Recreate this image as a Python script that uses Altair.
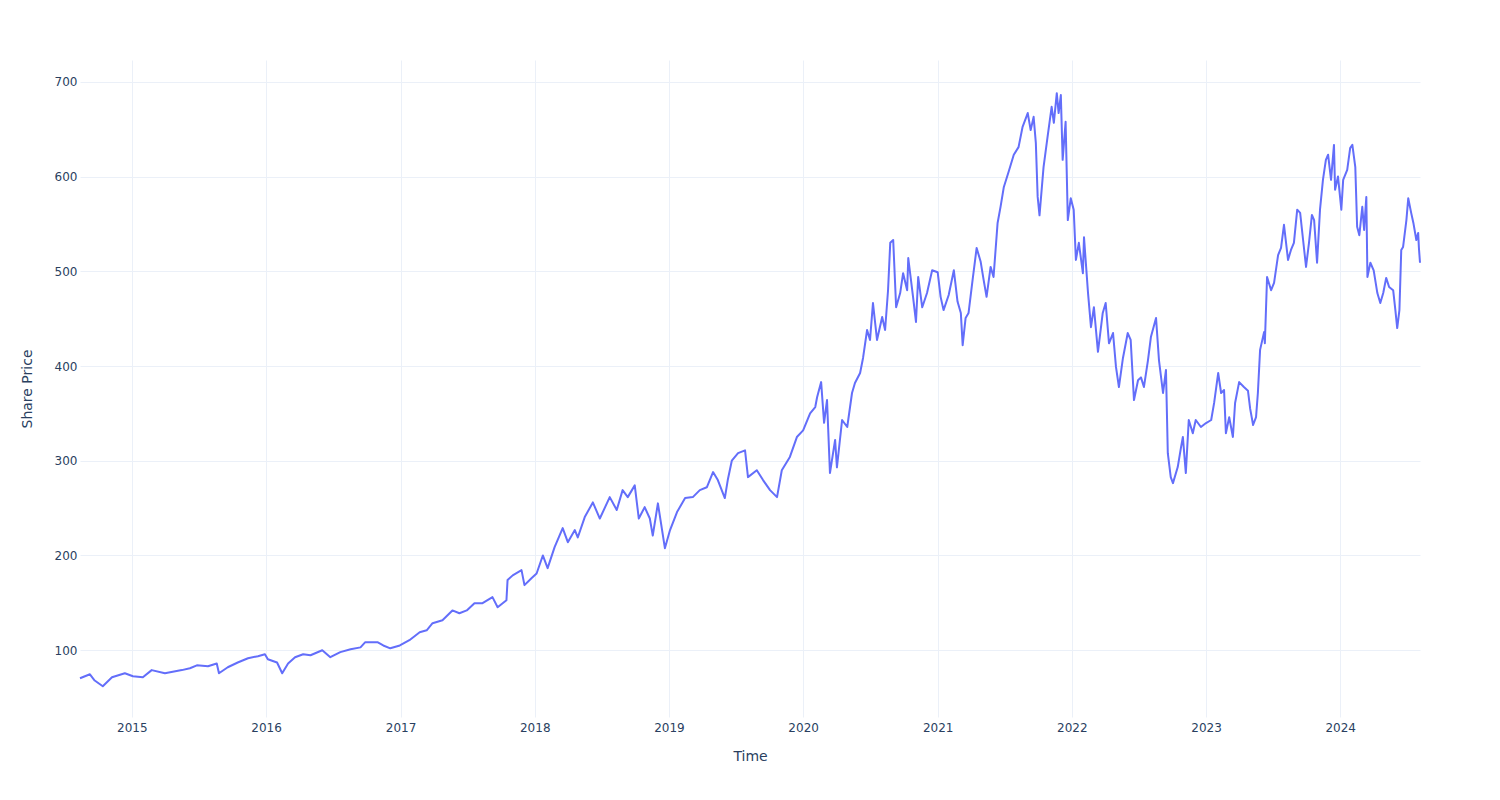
import altair as alt
import pandas as pd

dates = [
    "2014-08-13", "2014-09-09", "2014-09-22", "2014-10-14", "2014-11-08", "2014-12-13",
    "2015-01-04", "2015-01-31", "2015-02-24", "2015-04-01", "2015-05-17", "2015-06-08",
    "2015-06-27", "2015-07-27", "2015-08-20", "2015-08-26", "2015-09-19", "2015-10-16",
    "2015-11-13", "2015-12-10", "2015-12-29",
    "2016-01-06", "2016-01-31", "2016-02-14", "2016-03-01", "2016-03-20", "2016-04-11",
    "2016-05-01", "2016-06-02", "2016-06-24", "2016-07-21", "2016-08-18", "2016-09-14",
    "2016-09-27", "2016-10-30", "2016-11-15", "2016-12-04", "2016-12-30",
    "2017-01-25", "2017-02-22", "2017-03-13", "2017-03-29", "2017-04-25", "2017-05-22",
    "2017-06-10", "2017-06-30", "2017-07-21", "2017-08-12", "2017-09-08", "2017-09-22",
    "2017-10-16", "2017-10-19", "2017-11-02", "2017-11-26", "2017-12-04", "2017-12-23",
    "2018-01-06", "2018-01-23", "2018-02-05", "2018-02-24", "2018-03-18", "2018-04-01",
    "2018-04-20", "2018-04-28", "2018-05-17", "2018-06-08", "2018-06-27", "2018-07-24",
    "2018-08-12", "2018-08-28", "2018-09-11", "2018-09-30", "2018-10-11", "2018-10-27",
    "2018-11-10", "2018-11-18", "2018-12-02", "2018-12-21",
    "2019-01-04", "2019-01-23", "2019-02-14", "2019-03-07", "2019-03-26", "2019-04-14",
    "2019-05-01", "2019-05-14", "2019-06-02", "2019-06-10", "2019-06-21", "2019-07-08",
    "2019-07-27", "2019-08-04", "2019-08-28", "2019-09-14", "2019-10-03", "2019-10-22",
    "2019-11-04", "2019-11-26", "2019-12-15",
    "2020-01-01", "2020-01-20", "2020-02-03", "2020-02-08", "2020-02-19", "2020-02-27",
    "2020-03-06", "2020-03-14", "2020-03-28", "2020-04-02", "2020-04-16", "2020-04-30",
    "2020-05-13", "2020-05-21", "2020-06-04", "2020-06-12", "2020-06-23", "2020-07-01",
    "2020-07-09", "2020-07-20", "2020-08-03", "2020-08-11", "2020-08-19", "2020-08-25",
    "2020-09-02", "2020-09-10", "2020-09-21", "2020-09-29", "2020-10-10", "2020-10-13",
    "2020-10-26", "2020-11-03", "2020-11-09", "2020-11-20", "2020-12-03", "2020-12-17",
    "2021-01-01", "2021-01-09", "2021-01-17", "2021-01-31", "2021-02-14", "2021-02-24",
    "2021-03-05", "2021-03-10", "2021-03-18", "2021-03-26", "2021-04-06", "2021-04-17",
    "2021-04-28", "2021-05-06", "2021-05-14", "2021-05-25", "2021-06-02", "2021-06-13",
    "2021-06-21", "2021-06-30", "2021-07-13", "2021-07-27", "2021-08-09", "2021-08-20",
    "2021-09-03", "2021-09-11", "2021-09-19", "2021-09-25", "2021-09-30", "2021-10-05",
    "2021-10-16", "2021-10-27", "2021-11-07", "2021-11-13", "2021-11-21", "2021-11-26",
    "2021-12-02", "2021-12-07", "2021-12-15", "2021-12-21", "2021-12-29",
    "2022-01-06", "2022-01-12", "2022-01-20", "2022-01-31", "2022-02-03", "2022-02-14",
    "2022-02-22", "2022-03-02", "2022-03-13", "2022-03-26", "2022-04-03", "2022-04-12",
    "2022-04-23", "2022-05-01", "2022-05-09", "2022-05-20", "2022-06-02", "2022-06-10",
    "2022-06-19", "2022-06-30", "2022-07-08", "2022-07-16", "2022-07-27", "2022-08-04",
    "2022-08-18", "2022-08-26", "2022-09-06", "2022-09-14", "2022-09-19", "2022-09-27",
    "2022-10-03", "2022-10-16", "2022-10-25", "2022-10-30", "2022-11-07", "2022-11-15",
    "2022-11-26", "2022-12-04", "2022-12-18",
    "2023-01-01", "2023-01-15", "2023-01-23", "2023-02-03", "2023-02-11", "2023-02-19",
    "2023-02-24", "2023-03-05", "2023-03-15", "2023-03-21", "2023-04-01", "2023-04-14",
    "2023-04-25", "2023-05-01", "2023-05-09", "2023-05-17", "2023-05-22", "2023-05-28",
    "2023-06-08", "2023-06-10", "2023-06-16", "2023-06-27", "2023-07-05", "2023-07-16",
    "2023-07-24", "2023-08-01", "2023-08-12", "2023-08-20", "2023-08-28", "2023-09-06",
    "2023-09-14", "2023-09-22", "2023-09-30", "2023-10-08", "2023-10-16", "2023-10-22",
    "2023-10-30", "2023-11-07", "2023-11-15", "2023-11-23", "2023-11-29", "2023-12-07",
    "2023-12-15", "2023-12-18", "2023-12-26",
    "2024-01-04", "2024-01-09", "2024-01-20", "2024-01-28", "2024-02-03", "2024-02-11",
    "2024-02-16", "2024-02-22", "2024-03-01", "2024-03-06", "2024-03-12", "2024-03-15",
    "2024-03-23", "2024-04-01", "2024-04-11", "2024-04-19", "2024-04-27", "2024-05-05",
    "2024-05-13", "2024-05-24", "2024-05-30", "2024-06-04", "2024-06-10", "2024-06-15",
    "2024-06-20", "2024-06-29", "2024-07-04", "2024-07-12", "2024-07-18", "2024-07-26",
    "2024-07-31", "2024-08-02", "2024-08-05",
]

prices = [
    70.4, 74.6, 68.0, 62.0, 71.5, 75.7,
    72.5, 71.5, 79.0, 75.7, 79.0, 81.0,
    84.0, 83.0, 86.0, 75.7, 82.0, 87.0,
    91.5, 93.7, 95.8,
    90.5, 87.0, 75.7, 86.0, 92.6, 95.8,
    94.7, 100.0, 92.6, 98.0, 101.0, 103.0,
    108.5, 108.5, 105.0, 102.0, 105.0,
    110.6, 119.0, 121.0, 128.5, 131.7, 142.0,
    139.0, 142.0, 149.6, 149.6, 156.0, 145.4,
    152.8, 174.0, 179.0, 184.5, 168.7, 176.0,
    181.0, 200.0, 186.6, 208.8, 228.9, 214.0,
    226.8, 219.0, 240.5, 256.0, 239.0, 261.6,
    248.0, 269.0, 261.6, 274.0, 239.0, 251.0,
    239.0, 221.0, 255.0, 207.7,
    226.8, 245.8, 260.6, 261.6, 269.0, 272.0,
    288.0, 279.6, 260.6, 279.6, 300.0, 308.0,
    311.0, 282.7, 290.0, 279.6, 269.0, 261.6,
    290.0, 304.0, 325.0,
    332.0, 350.0, 356.7, 367.0, 383.0, 340.0,
    364.0, 287.0, 322.0, 293.0, 343.0, 335.6,
    371.5, 382.0, 392.6, 408.5, 438.0, 427.5,
    466.5, 427.5, 451.7, 438.0, 480.0, 530.0,
    533.0, 462.0, 477.0, 498.0, 480.0, 514.0,
    473.0, 446.5, 494.0, 462.0, 477.0, 501.0,
    499.0, 473.0, 459.0, 475.0, 501.0, 468.0,
    456.0, 422.0, 450.7, 456.0, 491.0, 524.6,
    510.0, 491.0, 473.0, 504.6, 494.0, 551.0,
    568.0, 589.0, 605.0, 623.0, 631.0, 652.5,
    667.0, 649.0, 663.0, 635.6, 578.5, 559.0,
    610.0, 642.0, 673.6, 656.7, 688.0, 667.0,
    686.0, 617.6, 657.7, 554.0, 577.0,
    565.0, 512.0, 530.0, 498.0, 536.0, 477.0,
    441.0, 462.0, 415.0, 456.0, 466.5, 424.0,
    434.8, 399.0, 377.8, 408.5, 434.8, 427.5,
    364.0, 385.0, 388.0, 377.8, 406.0, 430.6,
    450.7, 406.0, 371.5, 395.8, 308.0, 282.7,
    276.4, 293.3, 314.4, 325.0, 287.0, 343.0,
    329.0, 343.0, 335.6,
    339.8, 343.0, 361.0, 392.6, 371.5, 374.6,
    329.0, 346.0, 325.0, 361.0, 383.0, 377.8,
    374.0, 355.0, 337.7, 346.0, 371.5, 417.0,
    436.0, 424.0, 494.0, 480.0, 487.7, 517.0,
    524.6, 549.0, 512.0, 522.5, 530.0, 565.0,
    561.6, 533.0, 504.6, 530.0, 559.5, 554.0,
    509.0, 565.0, 596.5, 617.6, 623.0, 596.5,
    633.4, 586.0, 600.0,
    565.0, 596.5, 607.0, 630.0, 633.4, 610.0,
    547.0, 538.0, 568.0, 543.6, 578.5, 494.0,
    509.0, 501.0, 477.0, 466.5, 477.0, 493.0,
    483.4, 480.0, 459.0, 440.0, 459.0, 522.5,
    525.7, 554.0, 577.0, 561.6, 551.0, 533.0,
    540.5, 525.0, 509.0,
]

df = pd.DataFrame({"Time": pd.to_datetime(dates), "Share Price": prices})

FONT = "DejaVu Sans"
TXT = "#2a3f5f"
GRID = "#EBF0F8"

chart = (
    alt.Chart(df)
    .mark_line(color="#636efa", strokeWidth=2, strokeJoin="round")
    .encode(
        x=alt.X(
            "Time:T",
            title="Time",
            scale=alt.Scale(domain=["2014-08-13", "2024-08-05"], nice=False),
            axis=alt.Axis(
                format="%Y",
                tickCount={"interval": "year", "step": 1},
                grid=True,
                gridColor=GRID,
                domain=False,
                ticks=False,
                labelPadding=5,
                labelFont=FONT,
                labelFontSize=12,
                labelColor=TXT,
                titleFont=FONT,
                titleFontSize=14,
                titleFontWeight="normal",
                titleColor=TXT,
                titlePadding=16,
                labelFlush=False,
            ),
        ),
        y=alt.Y(
            "Share Price:Q",
            title="Share Price",
            scale=alt.Scale(domain=[29.5, 723], nice=False, zero=False),
            axis=alt.Axis(
                values=[100, 200, 300, 400, 500, 600, 700],
                grid=True,
                gridColor=GRID,
                domain=False,
                ticks=False,
                labelPadding=3,
                labelFont=FONT,
                labelFontSize=12,
                labelColor=TXT,
                titleFont=FONT,
                titleFontSize=14,
                titleFontWeight="normal",
                titleColor=TXT,
                titlePadding=20,
            ),
        ),
    )
    .properties(
        width=1340,
        height=657,
        background="white",
        autosize=alt.AutoSizeParams(type="none"),
        padding={"left": 80, "top": 60, "right": 80, "bottom": 83},
    )
    .configure_view(stroke=None, strokeWidth=0)
)

chart.save("out.html", embed_options={"renderer": "svg", "actions": False})
